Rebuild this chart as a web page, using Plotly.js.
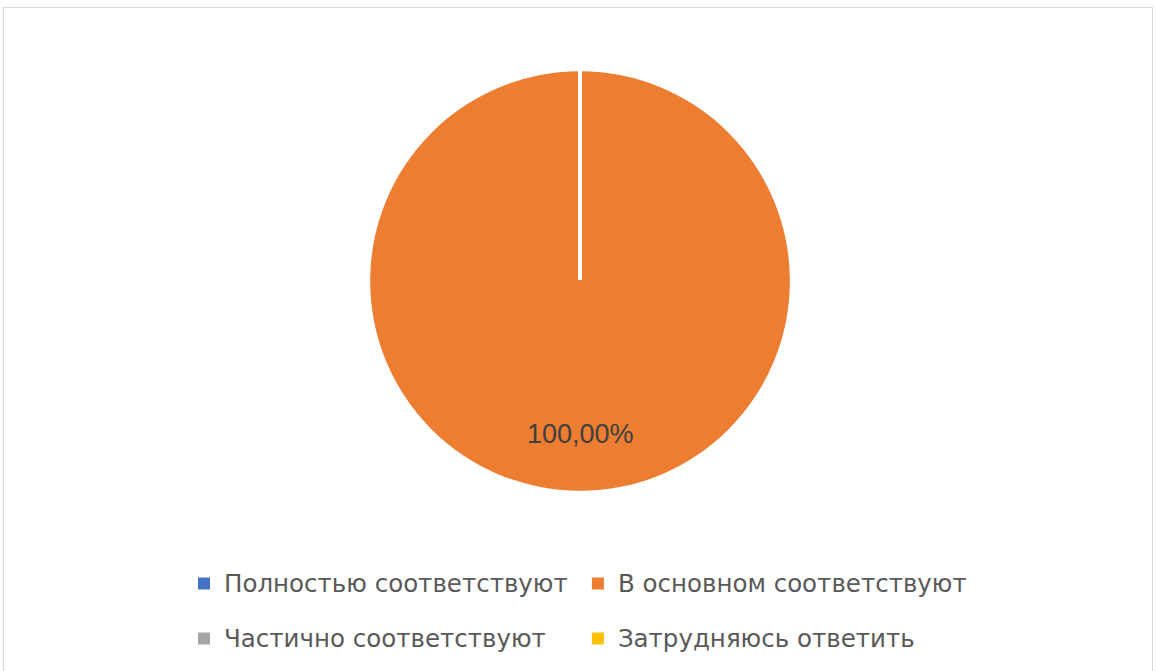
<!DOCTYPE html>
<html>
<head>
<meta charset="utf-8">
<script src="https://cdn.plot.ly/plotly-3.0.1.min.js"></script>
<style>
  html, body { margin: 0; padding: 0; background: #fff; }
  #frame { position: absolute; left: 3px; top: 7px; width: 1150px; height: 680px; border: 1.5px solid #d9d9d9; box-sizing: border-box; }
  #chart { position: absolute; left: 0; top: 0; width: 1156px; height: 671px; }
</style>
</head>
<body>
<div id="frame"></div>
<div id="chart"></div>
<script>
const categories = ["Полностью соответствуют", "В основном соответствуют", "Частично соответствуют", "Затрудняюсь ответить"];
const values = [0, 100, 0, 0];
const colors = ["#4472c4", "#ed7d31", "#a5a5a5", "#ffc000"];

const total = values.reduce((a, b) => a + b, 0);
const mainIdx = values.indexOf(Math.max(...values));
const pctLabel = (values[mainIdx] / total * 100).toFixed(2).replace('.', ',') + '%';

const W = 1156, H = 671;
const domain = { x: [0.0035, 1], y: [1 - 496 / H, 1 - 72 / H] };

const styled = s => '<span style="font-size:24.5px;baseline-shift:7px">' + s + '</span>';

const trace = {
  type: 'pie',
  labels: categories.map(styled),
  values: values,
  marker: { colors: colors, line: { color: '#ffffff', width: 0 } },
  sort: false,
  direction: 'clockwise',
  rotation: 0,
  textinfo: 'none',
  hoverinfo: 'percent',
  domain: domain
};

const layout = {
  width: W,
  height: H,
  margin: { l: 0, r: 0, t: 0, b: 0 },
  paper_bgcolor: 'rgba(0,0,0,0)',
  showlegend: true,
  legend: {
    orientation: 'h',
    xanchor: 'left',
    yanchor: 'top',
    x: 184 / W,
    y: 1 - 557 / H,
    font: { family: 'DejaVu Sans, sans-serif', size: 40, color: '#595959' },
    bgcolor: 'rgba(0,0,0,0)',
    traceorder: 'normal'
  },
  shapes: [{
    type: 'line', xref: 'paper', yref: 'paper',
    x0: 580 / W, x1: 580 / W, y0: 1 - 283 / H, y1: 1 - 70 / H,
    line: { color: '#ffffff', width: 4 }
  }],
  annotations: [{
    text: pctLabel,
    xref: 'paper', yref: 'paper',
    x: 580 / W, y: 1 - 439 / H,
    showarrow: false,
    font: { family: 'Liberation Sans, Arial, sans-serif', size: 27, color: '#404040' }
  }]
};

Plotly.newPlot('chart', [trace], layout, { displayModeBar: false });
</script>
</body>
</html>
